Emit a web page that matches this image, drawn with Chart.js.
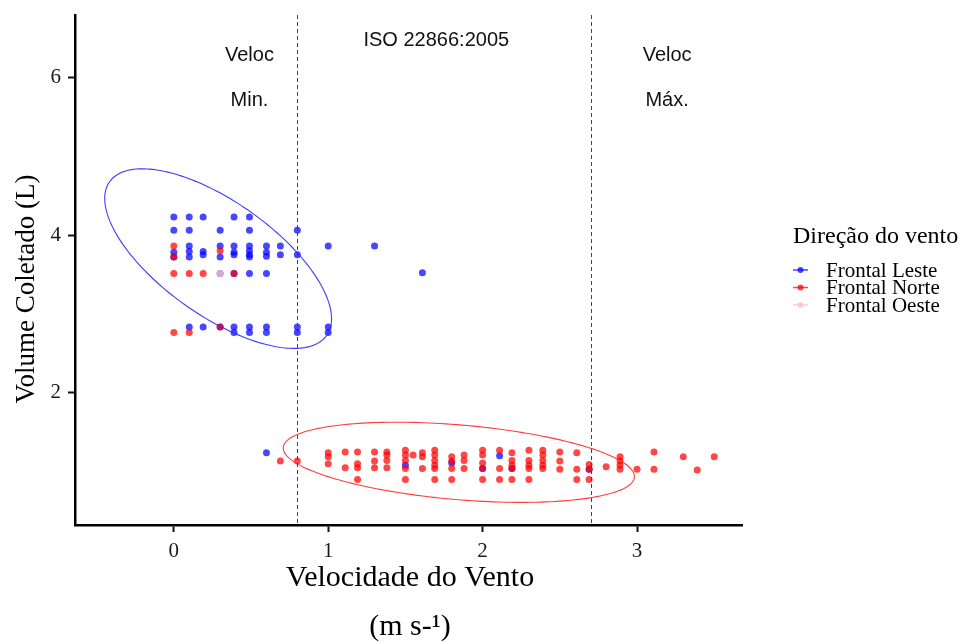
<!DOCTYPE html>
<html>
<head>
  <meta charset="utf-8">
  <title>Volume coletado x velocidade do vento</title>
  <script src="https://cdn.jsdelivr.net/npm/chart.js@4.4.0/dist/chart.umd.min.js"></script>
  <style>
    body { margin: 0; background: #fff; }
  </style>
</head>
<body>
<canvas id="chart" width="960" height="642"></canvas>
<script>
// wind speed (m/s) and collected volume (L) per wind direction
const lesteVel = [0,0,0,0, 0.1,0.1,0.1,0.1,0.1,0.1, 0.19,0.19,0.19,0.19, 0.3,0.3,0.3,0.3,0.3,
  0.39,0.39,0.39,0.39,0.39,0.39,0.39, 0.49,0.49,0.49,0.49,0.49,0.49,0.49,0.49,0.49,
  0.6,0.6,0.6,0.6,0.6,0.6, 0.69,0.69, 0.8,0.8,0.8,0.8, 1.0,1.0,1.0, 1.3,1.61,
  0.6,1.5,1.8,2.0,2.11,2.19,2.69];
const lesteVol = [4.23,4.06,3.78,3.72, 4.23,4.06,3.86,3.79,3.72,2.83, 4.23,3.79,3.75,2.83, 4.06,3.86,3.72,3.51,2.83,
  4.23,3.86,3.78,3.75,3.51,2.83,2.76, 4.23,4.06,3.86,3.8,3.75,3.72,3.51,2.83,2.76,
  3.86,3.78,3.73,3.51,2.83,2.76, 3.86,3.75, 4.06,3.75,2.83,2.76, 3.86,2.83,2.76, 3.86,3.52,
  1.23,1.07,1.1,1.03,1.19,1.03,1.02];

const norteVel = [0,0,0,0, 0.1,0.1, 0.19, 0.3,0.3, 0.39, 0.69,0.8, 1.0,1.0,1.0, 1.11,1.11,
  1.19,1.19,1.19,1.19, 1.3,1.3,1.3, 1.38,1.38,1.38,1.38, 1.5,1.5,1.5,1.5,1.5, 1.55,
  1.61,1.61,1.61, 1.69,1.69,1.69,1.69,1.69,1.69, 1.8,1.8,1.8,1.8, 1.88,1.88,1.88,
  2.0,2.0,2.0,2.0,2.0, 2.11,2.11,2.11, 2.19,2.19,2.19,2.19,2.19, 2.3,2.3,2.3,2.3,2.3,
  2.39,2.39,2.39,2.39,2.39, 2.5,2.5,2.5, 2.61,2.61,2.61, 2.69,2.69,2.69, 2.8,
  2.89,2.89,2.89,2.89, 3.0, 3.11,3.11, 3.3,3.39,3.5];
const norteVol = [3.86,3.72,3.51,2.76, 3.51,2.76, 3.51, 3.8,2.83, 3.51, 1.125,1.125, 1.23,1.18,1.09, 1.24,1.04,
  1.24,1.09,1.04,0.89, 1.24,1.125,1.04, 1.24,1.2,1.13,1.04, 1.26,1.2,1.13,1.03,0.89, 1.2,
  1.23,1.18,1.03, 1.26,1.2,1.13,1.07,1.03,0.89, 1.18,1.12,1.03,0.89, 1.2,1.13,1.03,
  1.26,1.2,1.1,1.03,0.89, 1.26,1.03,0.89, 1.23,1.13,1.07,1.03,0.89, 1.26,1.13,1.07,1.03,0.89,
  1.26,1.2,1.13,1.07,1.03, 1.24,1.125,1.02, 1.23,1.02,0.89, 1.08,1.02,0.89, 1.05,
  1.18,1.125,1.07,1.02, 1.02, 1.24,1.02, 1.18,1.01,1.18];

const oesteVel = [0.3];
const oesteVol = [3.51];

const seriesNames = ['Frontal Leste', 'Frontal Norte', 'Frontal Oeste'];
const seriesColors = ['rgba(0,0,255,0.72)', 'rgba(255,0,0,0.72)', 'rgba(255,192,203,0.8)'];

// ISO 22866:2005 speed limits
const limitVel = [0.8, 2.7];

// confidence ellipses: centre + two semi-axis vectors, in data units
const ellipses = [
  { cx: 0.287, cy: 3.70, ux: 0.703, uy: -0.978, vx: -0.213, vy: -0.591, color: 'rgba(40,40,255,0.9)' },
  { cx: 1.846, cy: 1.108, ux: 1.137, uy: -0.190, vx: -0.0205, vy: -0.4735, color: 'rgba(255,40,40,0.9)' }
];

function pts(xs, ys) { return xs.map((v, i) => ({ x: v, y: ys[i] })); }

const serif = "'Liberation Serif', 'Times New Roman', serif";
const sans = "'Liberation Sans', Arial, sans-serif";

const overlay = {
  id: 'overlay',
  afterDatasetsDraw(chart) {
    const { ctx, chartArea, scales: { x, y } } = chart;
    ctx.save();
    ellipses.forEach(e => {
      ctx.beginPath();
      for (let i = 0; i <= 200; i++) {
        const t = i / 200 * Math.PI * 2;
        const px = x.getPixelForValue(e.cx + e.ux * Math.cos(t) + e.vx * Math.sin(t));
        const py = y.getPixelForValue(e.cy + e.uy * Math.cos(t) + e.vy * Math.sin(t));
        if (i === 0) ctx.moveTo(px, py); else ctx.lineTo(px, py);
      }
      ctx.strokeStyle = e.color;
      ctx.lineWidth = 1.1;
      ctx.stroke();
    });
    ctx.setLineDash([4, 3]);
    ctx.strokeStyle = '#444';
    ctx.lineWidth = 1;
    limitVel.forEach(v => {
      const px = Math.round(x.getPixelForValue(v)) + 0.5;
      ctx.beginPath();
      ctx.moveTo(px, chartArea.top);
      ctx.lineTo(px, chartArea.bottom);
      ctx.stroke();
    });
    ctx.restore();
  },
  afterDraw(chart) {
    const { ctx, scales: { x, y } } = chart;
    ctx.save();
    // zone labels
    ctx.fillStyle = '#111';
    ctx.font = '20px ' + sans;
    ctx.textAlign = 'center';
    ctx.textBaseline = 'middle';
    ctx.fillText('Veloc', x.getPixelForValue(0.49), y.getPixelForValue(6.29));
    ctx.fillText('Min.', x.getPixelForValue(0.49), y.getPixelForValue(5.71));
    ctx.fillText('ISO 22866:2005', x.getPixelForValue(1.70), y.getPixelForValue(6.47));
    ctx.fillText('Veloc', x.getPixelForValue(3.195), y.getPixelForValue(6.29));
    ctx.fillText('Máx.', x.getPixelForValue(3.195), y.getPixelForValue(5.71));

    // axis titles
    ctx.fillStyle = '#000';
    ctx.font = '30px ' + serif;
    ctx.fillText('Velocidade do Vento', 410, 578);
    ctx.fillText('(m s-¹)', 410, 627);
    ctx.save();
    ctx.translate(27, 289);
    ctx.rotate(-Math.PI / 2);
    ctx.font = '27px ' + serif;
    ctx.fillText('Volume Coletado (L)', 0, 0);
    ctx.restore();

    // legend
    ctx.textAlign = 'left';
    ctx.font = '24px ' + serif;
    ctx.fillText('Direção do vento', 793, 237);
    ctx.font = '21px ' + serif;
    seriesNames.forEach((name, i) => {
      const ly = 270 + i * 17.5;
      ctx.strokeStyle = seriesColors[i];
      ctx.lineWidth = 1.5;
      ctx.beginPath();
      ctx.moveTo(793, ly);
      ctx.lineTo(808, ly);
      ctx.stroke();
      ctx.fillStyle = seriesColors[i];
      ctx.beginPath();
      ctx.arc(800.5, ly, 3, 0, Math.PI * 2);
      ctx.fill();
      ctx.fillStyle = '#000';
      ctx.fillText(name, 826, ly + 1);
    });
    ctx.restore();
  }
};

const pointStyle = c => ({
  backgroundColor: c, borderWidth: 0, pointRadius: 3.5, pointHoverRadius: 3.5
});

new Chart(document.getElementById('chart'), {
  type: 'scatter',
  data: {
    datasets: [
      { label: seriesNames[2], data: pts(oesteVel, oesteVol), ...pointStyle(seriesColors[2]) },
      { label: seriesNames[1], data: pts(norteVel, norteVol), ...pointStyle(seriesColors[1]) },
      { label: seriesNames[0], data: pts(lesteVel, lesteVol), ...pointStyle(seriesColors[0]) }
    ]
  },
  options: {
    responsive: false,
    animation: false,
    layout: { padding: { top: 15, right: 218, left: 0, bottom: 0 } },
    plugins: { legend: { display: false }, tooltip: { enabled: false } },
    scales: {
      x: {
        type: 'linear', min: -0.64, max: 3.68,
        afterFit: s => { s.height = 117; s.paddingLeft = 0; s.paddingRight = 0; },
        ticks: { stepSize: 1, includeBounds: false, padding: 7, color: '#1a1a1a',
          font: { family: serif, size: 21 } },
        grid: { drawOnChartArea: false, drawTicks: true, tickLength: 7, tickWidth: 2, tickColor: '#111' },
        border: { display: true, color: '#000', width: 2.5 }
      },
      y: {
        type: 'linear', min: 0.31, max: 6.8,
        afterFit: s => { s.width = 75; s.paddingTop = 0; s.paddingBottom = 0; },
        ticks: { stepSize: 2, includeBounds: false, padding: 7, color: '#1a1a1a',
          font: { family: serif, size: 21 } },
        grid: { drawOnChartArea: false, drawTicks: true, tickLength: 7, tickWidth: 2, tickColor: '#111' },
        border: { display: true, color: '#000', width: 2.5 }
      }
    }
  },
  plugins: [overlay]
});
</script>
</body>
</html>
